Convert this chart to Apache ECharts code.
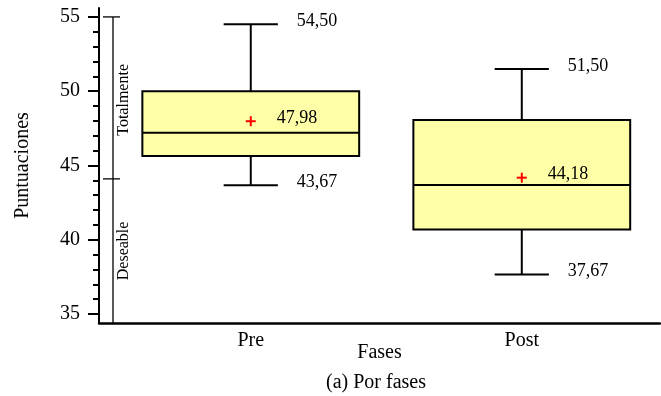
<!DOCTYPE html>
<html>
<head>
<meta charset="utf-8">
<script src="https://cdn.jsdelivr.net/npm/echarts@6/dist/echarts.min.js"></script>
<style>
  html, body { margin: 0; padding: 0; background: #fff; }
  #chart { width: 661px; height: 396px; }
</style>
</head>
<body>
<div id="chart"></div>
<script>
// Puntuaciones por fase: estadísticos de cada diagrama de caja
const categories = ['Pre', 'Post'];
const whiskerLow = [43.67, 37.67];
const q1 = [45.64, 40.70];
const median = [47.21, 43.69];
const q3 = [50.00, 48.06];
const whiskerHigh = [54.50, 51.50];
const means = [47.98, 44.18];

// Marcas del eje de puntuaciones
const yTicks = [35, 40, 45, 50, 55];
const yMinorTicks = [36, 37, 38, 39, 41, 42, 43, 44, 46, 47, 48, 49, 51, 52, 53, 54];

// Escala de valoración a la izquierda
const bandNames = ['Totalmente', 'Deseable'];
const bandLimits = [55, 44.1];

const Y_MIN = 34.4, Y_MAX = 55.6;
const FONT = '"Liberation Serif", "Times New Roman", serif';

const fmt = v => v.toFixed(2).replace('.', ',');

const boxData = categories.map((c, i) => [
  i + 1, whiskerLow[i], q1[i], median[i], q3[i], whiskerHigh[i], means[i]
]);

const bandData = bandNames.map((n, i) => [
  bandLimits[i], i + 1 < bandLimits.length ? bandLimits[i + 1] : Y_MIN
]);

function renderBox(params, api) {
  const x = api.value(0);
  const pLow = api.coord([x, api.value(1)]);
  const pQ1 = api.coord([x, api.value(2)]);
  const pMed = api.coord([x, api.value(3)]);
  const pQ3 = api.coord([x, api.value(4)]);
  const pHigh = api.coord([x, api.value(5)]);
  const pMean = api.coord([x, api.value(6)]);
  const half = api.size([0.8, 0])[0] / 2;
  const cap = api.size([0.2, 0])[0] / 2;
  const cx = pMed[0];
  const line = { stroke: '#000', lineWidth: 2 };
  const txt = (s, px, py) => ({
    type: 'text',
    style: { text: s, x: px, y: py, align: 'left', verticalAlign: 'middle',
             font: '18px ' + FONT, fill: '#000' }
  });
  return {
    type: 'group',
    children: [
      { type: 'line', shape: { x1: cx, y1: pHigh[1], x2: cx, y2: pQ3[1] }, style: line },
      { type: 'line', shape: { x1: cx, y1: pQ1[1], x2: cx, y2: pLow[1] }, style: line },
      { type: 'line', shape: { x1: cx - cap, y1: pHigh[1], x2: cx + cap, y2: pHigh[1] }, style: line },
      { type: 'line', shape: { x1: cx - cap, y1: pLow[1], x2: cx + cap, y2: pLow[1] }, style: line },
      { type: 'rect', shape: { x: cx - half, y: pQ3[1], width: half * 2, height: pQ1[1] - pQ3[1] },
        style: { fill: '#ffffa8', stroke: '#000', lineWidth: 2 } },
      { type: 'line', shape: { x1: cx - half, y1: pMed[1], x2: cx + half, y2: pMed[1] }, style: line },
      { type: 'line', shape: { x1: pMean[0] - 5, y1: pMean[1], x2: pMean[0] + 5, y2: pMean[1] },
        style: { stroke: '#ff0000', lineWidth: 2 } },
      { type: 'line', shape: { x1: pMean[0], y1: pMean[1] - 5, x2: pMean[0], y2: pMean[1] + 5 },
        style: { stroke: '#ff0000', lineWidth: 2 } },
      txt(fmt(api.value(5)), cx + 46, pHigh[1] - 3),
      txt(fmt(api.value(1)), cx + 46, pLow[1] - 3),
      txt(fmt(api.value(6)), cx + 26, pMean[1] - 3)
    ]
  };
}

function renderBand(params, api) {
  const cs = params.coordSys;
  const bx = cs.x + 14;
  const top = api.coord([0, api.value(0)])[1];
  const bottom = api.coord([0, api.value(1)])[1];
  const children = [
    { type: 'line', shape: { x1: bx, y1: top, x2: bx, y2: bottom },
      style: { stroke: '#000', lineWidth: 1.3 } },
    { type: 'line', shape: { x1: bx - 10, y1: top, x2: bx + 7, y2: top },
      style: { stroke: '#000', lineWidth: 1.3 } },
    { type: 'text', x: bx + 11, y: (top + bottom) / 2 + (params.dataIndex === 0 ? 2 : 0),
      rotation: Math.PI / 2,
      style: { text: bandNames[params.dataIndex], x: 0, y: 0, align: 'center', verticalAlign: 'middle',
               font: '16px ' + FONT, fill: '#000' } }
  ];
  return { type: 'group', children };
}

const chart = echarts.init(document.getElementById('chart'), null, { renderer: 'canvas' });
chart.setOption({
  animation: false,
  backgroundColor: '#fff',
  grid: { left: 99, right: 1, top: 8, bottom: 73 },
  xAxis: {
    type: 'value', min: 0.44, max: 2.51,
    axisLine: { show: true, onZero: false, lineStyle: { color: '#000', width: 2.5 } },
    axisTick: { show: false },
    splitLine: { show: false },
    axisLabel: {
      customValues: [1, 2],
      formatter: v => categories[Math.round(v) - 1] || '',
      fontFamily: FONT, fontSize: 20, color: '#000', margin: 8
    },
    name: 'Fases', nameLocation: 'middle', nameGap: 20, nameMoveOverlap: false,
    nameTextStyle: { fontFamily: FONT, fontSize: 20, color: '#000' }
  },
  yAxis: [{
    type: 'value', min: Y_MIN, max: Y_MAX,
    axisLine: { show: true, onZero: false, lineStyle: { color: '#000', width: 2 } },
    axisTick: { show: true, customValues: yTicks, length: 11, lineStyle: { color: '#000', width: 2 } },
    splitLine: { show: false },
    axisLabel: { customValues: yTicks, fontFamily: FONT, fontSize: 20, color: '#000', margin: 19 },
    name: 'Puntuaciones', nameLocation: 'middle', nameGap: 66, nameRotate: 90, nameMoveOverlap: false,
    nameTextStyle: { fontFamily: FONT, fontSize: 20, color: '#000' }
  }, {
    type: 'value', min: Y_MIN, max: Y_MAX, position: 'left',
    axisLine: { show: false },
    axisTick: { show: true, customValues: yMinorTicks, length: 6, lineStyle: { color: '#000', width: 2 } },
    splitLine: { show: false },
    axisLabel: { show: false }
  }],
  series: [{
    type: 'custom',
    renderItem: renderBand,
    data: bandData,
    encode: { y: [0, 1] },
    clip: false,
    silent: true
  }, {
    type: 'custom',
    renderItem: renderBox,
    data: boxData,
    encode: { x: 0, y: [1, 2, 3, 4, 5, 6] },
    clip: false,
    silent: true
  }],
  graphic: [{
    type: 'text', x: 376, y: 383,
    style: { text: '(a) Por fases', align: 'center', verticalAlign: 'middle',
             font: '20px ' + FONT, fill: '#000' }
  }]
});
</script>
</body>
</html>
